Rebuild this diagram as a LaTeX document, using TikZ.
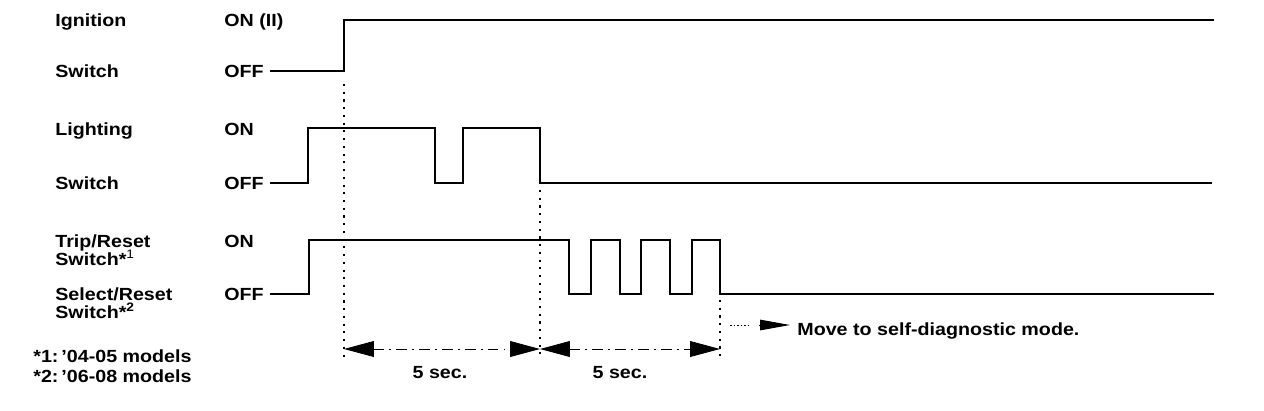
\documentclass[tikz,border=0pt]{standalone}
\usepackage{fontspec}
\setmainfont[FakeStretch=1.12]{Liberation Sans}
\usetikzlibrary{arrows.meta,positioning}

\tikzset{
	wave/.style={line width=1.6pt},
	guide/.style={line width=0.6pt,dash pattern=on 1.2pt off 3.2pt},
	dimline/.style={line width=0.5pt,dash pattern=on 6pt off 3pt on 1pt off 3pt,
		{Triangle[length=17pt,width=9pt]}-{Triangle[length=17pt,width=9pt]}},
	lbl/.style={anchor=base west,inner sep=0pt,font=\bfseries\fontsize{10}{12}\selectfont}
}

\begin{document}
\begin{tikzpicture}[x=0.02cm,y=-0.02cm]
	\useasboundingbox (0,0) rectangle (1264,410);
	
	% signal names
	\node[lbl] (ign)   at (55,26)  {Ignition};
	\node[lbl] (ignsw) at (55,77)  {Switch};
	\node[lbl] (lgt)   at (55,135) {Lighting};
	\node[lbl] (lgtsw) at (55,189) {Switch};
	\node[lbl] (trip)  at (55,247) {Trip/Reset};
	\node[lbl] (tripsw) at (55,265) {Switch*\textsuperscript{\mdseries1}};
	\node[lbl] (sel)   at (55,300) {Select/Reset};
	\node[lbl] (selsw) at (55,318) {Switch*\textsuperscript{2}};
	
	% levels
	\node[lbl] (ignon)  at (224,26)  {ON (II)};
	\node[lbl] (ignoff) at (224,77)  {OFF};
	\node[lbl] (lgton)  at (224,135) {ON};
	\node[lbl] (lgtoff) at (224,189) {OFF};
	\node[lbl] (tripon) at (224,247) {ON};
	\node[lbl] (tripoff) at (224,300) {OFF};
	
	% footnotes
	\node[lbl] (fn1) at (33,362) {*1:\,’04-05 models};
	\node[lbl] (fn2) at (33,382) {*2:\,’06-08 models};
	
	% waveforms
	\draw[wave] (270,71) -- (344,71) -- (344,20) -- (1214,20);
	\draw[wave] (270,183) -- (308,183) -- (308,128) -- (435,128) -- (435,183)
		-- (463,183) -- (463,128) -- (540,128) -- (540,183) -- (1212,183);
	\draw[wave] (270,294) -- (309,294) -- (309,240) -- (569,240) -- (569,294)
		-- (591,294) -- (591,240) -- (620,240) -- (620,294)
		-- (641,294) -- (641,240) -- (670,240) -- (670,294)
		-- (692,294) -- (692,240) -- (720,240) -- (720,294) -- (1214,294);
	
	% time marks
	\coordinate (t0) at (344,349);
	\coordinate (t1) at (540,349);
	\coordinate (t2) at (720,349);
	\draw[guide] (344,84) -- (344,360);
	\draw[guide] (540,190) -- (540,360);
	\draw[guide] (720,300) -- (720,360);
	
	\draw[dimline] (t0) -- (t1);
	\draw[dimline] (t1) -- (t2);
	\node[lbl,anchor=base] (sec1) at (440,378) {5 sec.};
	\node[lbl,anchor=base] (sec2) at (620,378) {5 sec.};
	
	% self-diagnostic
	\node[lbl] (move) at (797,335) {Move to self-diagnostic mode.};
	\coordinate (m0) at (730,325);
	\coordinate (m1) at (748,325);
	\coordinate (m2) at (759,325);
	\coordinate (m3) at (790,325);
	\draw[line width=0.5pt,dash pattern=on 1pt off 1pt] (m0) -- (m1);
	\draw[line width=0.5pt,-{Triangle[length=17pt,width=6pt]}] (m2) -- (m3);
\end{tikzpicture}
\end{document}
